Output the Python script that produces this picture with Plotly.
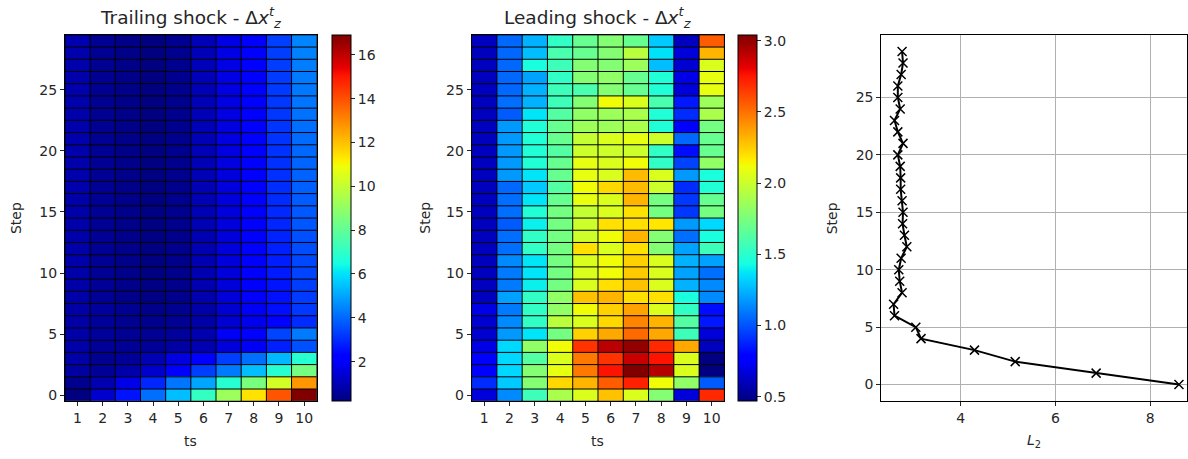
import numpy as np
import plotly.graph_objects as go

ts = list(range(1, 11))
steps = list(range(30))

# Trailing shock spread per step (rows: step 0..29, columns: ts 1..10)
trailing = [
    [0.20, 1.30, 2.60, 4.10, 5.40, 7.10, 9.20, 11.40, 13.90, 16.90],
    [0.40, 0.90, 1.70, 2.90, 4.20, 5.00, 6.80, 8.50, 10.30, 12.70],
    [0.70, 0.55, 0.80, 1.30, 2.20, 3.30, 4.30, 5.40, 6.80, 8.40],
    [0.80, 0.45, 0.55, 0.95, 1.60, 2.20, 3.30, 4.10, 5.30, 6.80],
    [0.80, 0.55, 0.50, 0.55, 0.70, 0.90, 1.50, 1.90, 2.80, 3.60],
    [0.80, 0.60, 0.50, 0.50, 0.60, 0.90, 1.90, 2.30, 3.40, 4.30],
    [0.75, 0.60, 0.45, 0.40, 0.50, 0.80, 1.40, 1.80, 2.30, 3.00],
    [0.75, 0.60, 0.45, 0.35, 0.45, 0.80, 1.40, 1.90, 2.50, 3.20],
    [0.80, 0.52, 0.36, 0.26, 0.38, 0.90, 1.50, 2.00, 2.55, 3.25],
    [0.80, 0.52, 0.36, 0.26, 0.38, 0.90, 1.50, 2.02, 2.60, 3.30],
    [0.81, 0.51, 0.35, 0.25, 0.38, 0.92, 1.52, 2.05, 2.70, 3.40],
    [0.81, 0.51, 0.35, 0.25, 0.39, 0.92, 1.53, 2.05, 2.75, 3.45],
    [0.81, 0.51, 0.35, 0.25, 0.39, 0.93, 1.54, 2.08, 2.80, 3.55],
    [0.82, 0.50, 0.35, 0.25, 0.39, 0.94, 1.55, 2.10, 2.85, 3.60],
    [0.82, 0.50, 0.35, 0.24, 0.40, 0.95, 1.56, 2.10, 2.90, 3.70],
    [0.82, 0.50, 0.34, 0.24, 0.40, 0.95, 1.56, 2.12, 2.95, 3.75],
    [0.82, 0.50, 0.34, 0.24, 0.40, 0.96, 1.57, 2.12, 3.00, 3.80],
    [0.83, 0.49, 0.34, 0.24, 0.40, 0.96, 1.58, 2.14, 3.02, 3.85],
    [0.83, 0.49, 0.34, 0.23, 0.41, 0.97, 1.58, 2.15, 3.05, 3.90],
    [0.83, 0.49, 0.34, 0.23, 0.41, 0.97, 1.59, 2.15, 3.08, 3.95],
    [0.83, 0.49, 0.33, 0.23, 0.41, 0.98, 1.60, 2.16, 3.10, 4.00],
    [0.84, 0.48, 0.33, 0.23, 0.41, 0.98, 1.60, 2.17, 3.12, 4.05],
    [0.84, 0.48, 0.33, 0.22, 0.42, 0.99, 1.61, 2.18, 3.15, 4.10],
    [0.84, 0.48, 0.33, 0.22, 0.42, 0.99, 1.62, 2.19, 3.18, 4.15],
    [0.84, 0.48, 0.32, 0.22, 0.42, 1.00, 1.62, 2.20, 3.20, 4.20],
    [0.85, 0.47, 0.32, 0.22, 0.42, 1.00, 1.63, 2.20, 3.22, 4.25],
    [0.85, 0.47, 0.32, 0.21, 0.43, 1.01, 1.64, 2.21, 3.25, 4.30],
    [0.85, 0.47, 0.32, 0.21, 0.43, 1.01, 1.64, 2.22, 3.28, 4.35],
    [0.85, 0.47, 0.31, 0.21, 0.43, 1.02, 1.65, 2.23, 3.30, 4.40],
    [0.86, 0.46, 0.31, 0.20, 0.43, 1.02, 1.66, 2.24, 3.32, 4.45],
]

# Leading shock spread per step (rows: step 0..29, columns: ts 1..10)
leading = [
    [0.67, 1.14, 1.56, 1.90, 2.05, 2.28, 2.05, 1.78, 0.67, 2.70],
    [0.90, 1.30, 1.78, 2.22, 2.32, 2.56, 2.72, 2.12, 1.82, 1.02],
    [0.78, 1.34, 1.78, 2.09, 2.48, 2.76, 3.04, 2.92, 2.05, 0.47],
    [0.78, 1.34, 1.63, 2.05, 2.48, 2.67, 2.88, 2.76, 2.05, 0.47],
    [0.70, 1.34, 1.82, 2.12, 2.67, 2.91, 3.00, 2.70, 2.35, 0.61],
    [0.65, 1.18, 1.37, 1.73, 2.24, 2.35, 2.52, 2.35, 1.56, 0.67],
    [0.65, 1.14, 1.52, 1.95, 2.05, 2.22, 2.45, 2.32, 1.63, 0.85],
    [0.70, 1.10, 1.52, 1.82, 2.12, 2.24, 2.37, 2.05, 1.52, 0.82],
    [0.61, 1.20, 1.52, 1.82, 2.28, 2.32, 2.20, 2.20, 1.45, 1.14],
    [0.61, 1.10, 1.40, 1.73, 2.05, 2.20, 2.28, 2.05, 1.24, 1.14],
    [0.61, 1.10, 1.37, 1.73, 2.05, 2.12, 2.26, 2.05, 1.20, 1.07],
    [0.61, 1.14, 1.37, 1.73, 2.05, 2.12, 2.24, 2.05, 1.24, 1.20],
    [0.61, 1.07, 1.52, 1.73, 2.20, 2.05, 2.20, 1.78, 1.20, 1.56],
    [0.61, 1.07, 1.52, 1.73, 2.01, 2.12, 2.32, 1.78, 1.07, 1.45],
    [0.61, 1.02, 1.40, 1.73, 2.01, 2.20, 2.20, 2.18, 1.18, 1.34],
    [0.61, 1.07, 1.47, 1.73, 1.98, 2.05, 2.20, 1.73, 0.93, 1.73],
    [0.61, 1.07, 1.37, 1.69, 2.09, 2.05, 2.32, 1.73, 0.93, 1.69],
    [0.61, 1.05, 1.30, 1.63, 2.12, 2.22, 2.30, 2.01, 0.90, 1.47],
    [0.61, 1.18, 1.37, 1.69, 2.09, 2.05, 2.30, 2.05, 1.18, 1.45],
    [0.61, 1.18, 1.47, 1.69, 2.09, 2.05, 2.12, 1.52, 0.96, 1.82],
    [0.61, 1.18, 1.47, 1.63, 2.01, 2.01, 2.01, 1.52, 0.82, 1.69],
    [0.61, 1.18, 1.47, 1.69, 1.98, 2.05, 2.09, 2.01, 1.05, 1.69],
    [0.61, 1.18, 1.47, 1.69, 1.86, 1.86, 1.90, 1.47, 0.78, 1.73],
    [0.61, 1.02, 1.37, 1.63, 1.82, 1.86, 1.90, 1.47, 0.90, 1.90],
    [0.61, 1.07, 1.24, 1.56, 1.78, 2.12, 2.05, 1.60, 0.85, 1.86],
    [0.61, 1.05, 1.24, 1.56, 1.60, 1.78, 1.69, 1.47, 0.67, 2.09],
    [0.61, 1.05, 1.20, 1.52, 1.78, 1.82, 1.69, 1.47, 0.70, 2.09],
    [0.61, 1.05, 1.45, 1.56, 1.78, 1.78, 1.86, 1.27, 0.65, 2.05],
    [0.61, 1.05, 1.27, 1.60, 1.69, 1.78, 1.95, 1.36, 0.67, 2.32],
    [0.61, 1.05, 1.24, 1.52, 1.69, 1.78, 1.69, 1.30, 0.61, 2.56],
]

# L2 error per step
l2 = [8.61, 6.86, 5.15, 4.29, 3.16, 3.05, 2.60, 2.58, 2.76, 2.71,
      2.69, 2.74, 2.86, 2.81, 2.77, 2.78, 2.76, 2.73, 2.73, 2.72,
      2.67, 2.78, 2.67, 2.60, 2.72, 2.67, 2.67, 2.74, 2.78, 2.76]

trailing_ticks = [2, 4, 6, 8, 10, 12, 14, 16]
leading_ticks = [0.5, 1.0, 1.5, 2.0, 2.5, 3.0]


def jet_colorscale():
    """Piecewise-linear jet map (matplotlib segment data)."""
    red = [(0, 0), (0.35, 0), (0.66, 1), (0.89, 1), (1, 0.5)]
    green = [(0, 0), (0.125, 0), (0.375, 1), (0.64, 1), (0.91, 0), (1, 0)]
    blue = [(0, 0.5), (0.11, 1), (0.34, 1), (0.65, 0), (1, 0)]
    pos = sorted({p for seg in (red, green, blue) for p, _ in seg})
    scale = []
    for p in pos:
        r = np.interp(p, [a for a, _ in red], [b for _, b in red])
        g = np.interp(p, [a for a, _ in green], [b for _, b in green])
        b = np.interp(p, [a for a, _ in blue], [c for _, c in blue])
        scale.append([p, f"rgb({round(r*255)},{round(g*255)},{round(b*255)})"])
    return scale


JET = jet_colorscale()
W, H = 1188, 459
FONT = "DejaVu Sans"
TEXT = "#262626"
TICK_FONT = dict(family=FONT, size=14, color=TEXT)

top_px, bot_px = 35, 403
ydom = [1 - bot_px / H, 1 - top_px / H]
x1dom = [65 / W, 317 / W]
x2dom = [472 / W, 725 / W]
x3dom = [882 / W, 1.0]
cb_len = (bot_px - top_px) / H
cb_y = 1 - (top_px + bot_px) / 2 / H


def colorbar(x_px, ticks, labels):
    return dict(
        x=x_px / W, xanchor="left", xpad=0, ypad=0,
        y=cb_y, yanchor="middle", len=cb_len, lenmode="fraction",
        thickness=19, thicknessmode="pixels",
        outlinewidth=1, outlinecolor="black",
        ticks="outside", ticklen=4, tickwidth=1, tickcolor=TEXT,
        tickvals=ticks, ticktext=labels, tickfont=TICK_FONT,
    )


fig = go.Figure()

fig.add_trace(go.Heatmap(
    z=trailing, x=ts, y=steps, colorscale=JET,
    colorbar=colorbar(332, trailing_ticks, [str(t) for t in trailing_ticks]),
    xaxis="x", yaxis="y", hoverinfo="skip",
))
fig.add_trace(go.Heatmap(
    z=leading, x=ts, y=steps, colorscale=JET,
    colorbar=colorbar(739, leading_ticks, [f"{t:.1f}" for t in leading_ticks]),
    xaxis="x2", yaxis="y2", hoverinfo="skip",
))
fig.add_trace(go.Scatter(
    x=l2, y=steps, mode="lines+markers",
    line=dict(color="black", width=2),
    marker=dict(symbol="x-thin", size=9, line=dict(color="black", width=1.5)),
    xaxis="x3", yaxis="y3", showlegend=False,
))

frame = dict(showline=True, linecolor="black", linewidth=1, mirror=True,
             ticks="outside", ticklen=4, tickwidth=1, tickcolor=TEXT,
             tickfont=TICK_FONT, zeroline=False)

heat_x = dict(range=[0.5, 10.5], tickvals=ts, showgrid=False, **frame)
heat_y = dict(range=[-0.5, 29.5], tickvals=[0, 5, 10, 15, 20, 25],
              showgrid=False, domain=ydom, **frame)

fig.update_layout(
    width=W, height=H,
    margin=dict(l=0, r=0, t=0, b=0),
    paper_bgcolor="white", plot_bgcolor="white",
    font=dict(family=FONT, size=14, color=TEXT),
    showlegend=False,
    xaxis=dict(domain=x1dom, anchor="y", **heat_x),
    yaxis=dict(anchor="x", **heat_y),
    xaxis2=dict(domain=x2dom, anchor="y2", **heat_x),
    yaxis2=dict(anchor="x2", **heat_y),
    xaxis3=dict(domain=x3dom, anchor="y3", range=[2.32, 8.78],
                tickvals=[4, 6, 8], showgrid=True, gridcolor="#b0b0b0",
                gridwidth=1, **frame),
    yaxis3=dict(anchor="x3", domain=ydom, range=[-1.45, 30.45],
                tickvals=[0, 5, 10, 15, 20, 25], showgrid=True,
                gridcolor="#b0b0b0", gridwidth=1, **frame),
)

# black cell edges drawn over both heatmaps
edge = dict(color="black", width=1)
for xa, ya in (("x", "y"), ("x2", "y2")):
    for i in range(len(ts) + 1):
        xv = ts[0] - 0.5 + i
        fig.add_shape(type="line", xref=xa, yref=ya, x0=xv, x1=xv,
                      y0=steps[0] - 0.5, y1=steps[-1] + 0.5, line=edge)
    for j in range(len(steps) + 1):
        yv = steps[0] - 0.5 + j
        fig.add_shape(type="line", xref=xa, yref=ya, x0=ts[0] - 0.5,
                      x1=ts[-1] + 0.5, y0=yv, y1=yv, line=edge)

title_y = 1 - 18 / H
label_y = 1 - 443 / H
step_y = cb_y
TITLE_FONT = dict(family=FONT, size=18.5, color=TEXT)
annots = [
    dict(x=(x1dom[0] + x1dom[1]) / 2, y=title_y,
         text="Trailing shock - Δ<i>x</i><sup><i>t</i></sup><sub><i>z</i></sub>",
         font=TITLE_FONT),
    dict(x=(x2dom[0] + x2dom[1]) / 2, y=title_y,
         text="Leading shock - Δ<i>x</i><sup><i>t</i></sup><sub><i>z</i></sub>",
         font=TITLE_FONT),
    dict(x=(x1dom[0] + x1dom[1]) / 2, y=label_y, text="ts"),
    dict(x=(x2dom[0] + x2dom[1]) / 2, y=label_y, text="ts"),
    dict(x=(x3dom[0] + 1.0) / 2, y=label_y, text="<i>L</i><sub>2</sub>"),
    dict(x=16 / W, y=step_y, text="Step", textangle=-90),
    dict(x=425 / W, y=step_y, text="Step", textangle=-90),
    dict(x=833 / W, y=step_y, text="Step", textangle=-90),
]
for a in annots:
    a.setdefault("font", dict(family=FONT, size=14, color=TEXT))
    fig.add_annotation(xref="paper", yref="paper", showarrow=False,
                       xanchor="center", yanchor="middle", **a)

fig.write_html("out.html")
